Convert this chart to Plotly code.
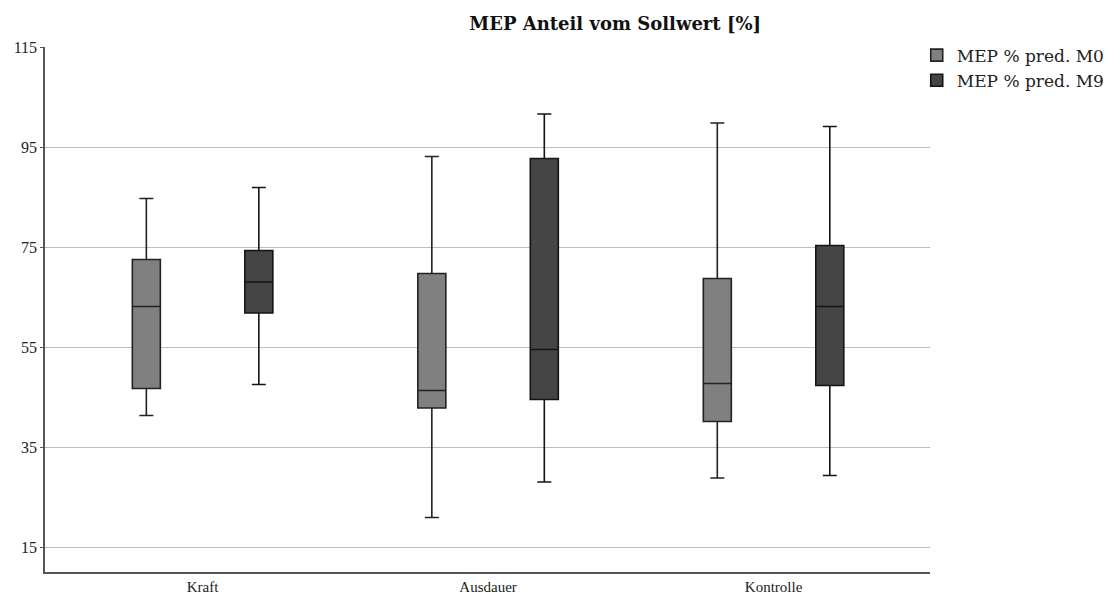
import plotly.graph_objects as go

categories = ["Kraft", "Ausdauer", "Kontrolle"]

m0_low = [41.3, 20.9, 28.8]
m0_q1 = [46.7, 42.8, 40.1]
m0_med = [63.1, 46.3, 47.7]
m0_q3 = [72.5, 69.7, 68.7]
m0_high = [84.7, 93.1, 99.8]

m9_low = [47.5, 28.0, 29.3]
m9_q1 = [61.8, 44.5, 47.3]
m9_med = [68.0, 54.5, 63.1]
m9_q3 = [74.3, 92.7, 75.3]
m9_high = [86.9, 101.6, 99.1]

y_ticks = [15, 35, 55, 75, 95, 115]

SERIF = "DejaVu Serif, Liberation Serif, serif"

fig = go.Figure()
fig.add_trace(go.Box(
    name="MEP % pred. M0", x=categories,
    lowerfence=m0_low, q1=m0_q1, median=m0_med, q3=m0_q3, upperfence=m0_high,
    fillcolor="#808080", line=dict(color="#222222", width=1.6),
    whiskerwidth=0.5, boxpoints=False, hoverinfo="skip",
))
fig.add_trace(go.Box(
    name="MEP % pred. M9", x=categories,
    lowerfence=m9_low, q1=m9_q1, median=m9_med, q3=m9_q3, upperfence=m9_high,
    fillcolor="#454545", line=dict(color="#151515", width=1.6),
    whiskerwidth=0.5, boxpoints=False, hoverinfo="skip",
))

fig.update_layout(
    width=1112, height=587,
    margin=dict(l=37, r=190, t=39, b=23, autoexpand=False),
    paper_bgcolor="white", plot_bgcolor="white",
    boxmode="group", boxgap=0.212, boxgroupgap=0.751,
    title=dict(text="<b>MEP Anteil vom Sollwert [%]</b>", x=0.546, xanchor="center",
               y=0.973, yanchor="middle",
               font=dict(family=SERIF, size=18, color="#111111")),
    legend=dict(x=0.985, y=1.018, xanchor="left", yanchor="top",
                font=dict(family=SERIF, size=17, color="#222222"),
                tracegroupgap=0, itemwidth=30, bgcolor="rgba(0,0,0,0)"),
    showlegend=True,
)
fig.update_xaxes(
    type="category", range=[-0.552, 2.548], automargin=False,
    showline=True, linecolor="#555555", linewidth=1.5,
    showgrid=False, ticks="", zeroline=False,
    tickfont=dict(family="Liberation Serif", size=15, color="#222222"),
)
fig.update_yaxes(
    range=[10, 115], tickvals=y_ticks, ticktext=[str(v) for v in y_ticks],
    automargin=False,
    showline=True, linecolor="#555555", linewidth=1.5,
    showgrid=True, gridcolor="#bdbdbd", gridwidth=1.2,
    ticks="outside", ticklen=3, tickcolor="#555555", zeroline=False,
    tickfont=dict(family="Liberation Serif", size=16, color="#222222"),
)

fig.write_html("out.html")
